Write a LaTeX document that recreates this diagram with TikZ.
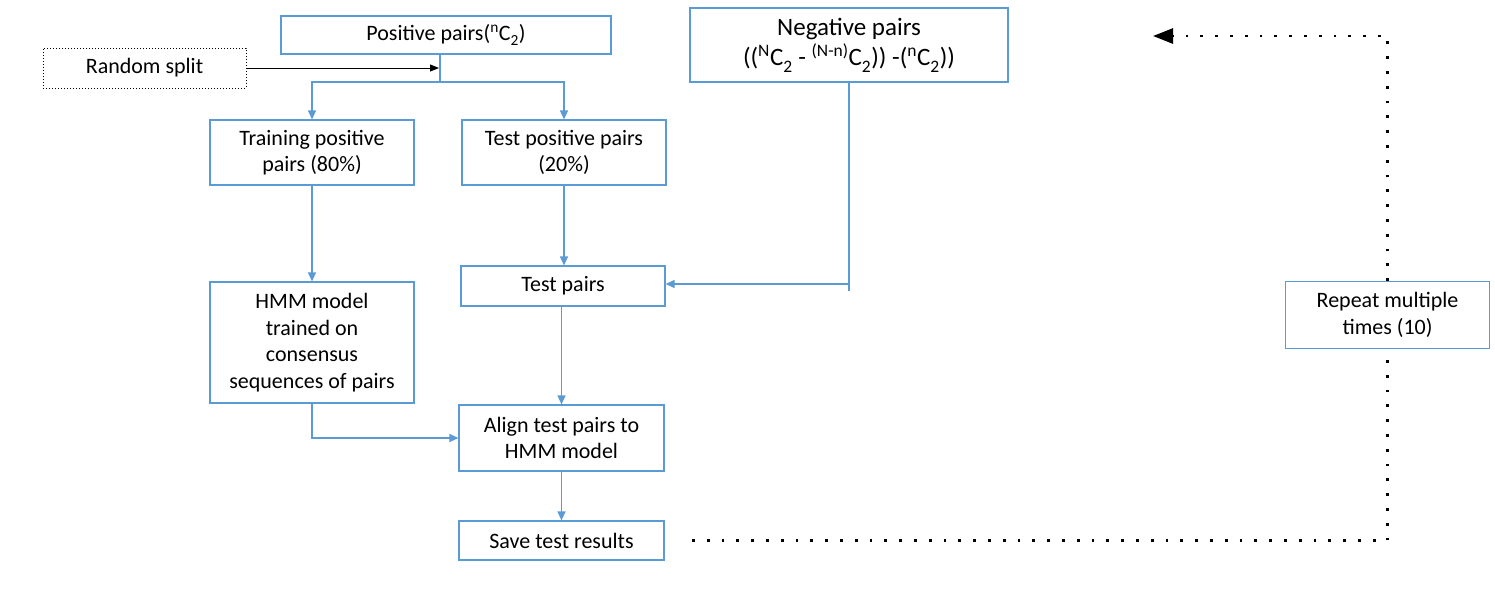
\documentclass[tikz,border=0pt]{standalone}
\usepackage{fontspec}
\setmainfont{Carlito}
\usetikzlibrary{arrows.meta,positioning}
\definecolor{obl}{RGB}{91,155,213}
\newcommand{\dnsub}[1]{\textsubscript{\raisebox{-0.18em}{#1}}}
\tikzset{
  box/.style={draw=obl, line width=1.2pt, align=center, inner sep=2pt,
    font=\fontsize{22}{26.5}\selectfont},
  conn/.style={draw=obl, line width=1.2pt},
  carr/.style={conn, -{Triangle[length=9pt,width=8pt]}},
  bigdots/.style={line width=2.8pt, dash pattern=on 2.8pt off 12pt},
}
\begin{document}
\begin{tikzpicture}[x=1pt,y=-1pt]
\useasboundingbox (0,0) rectangle (1495,590);
\node[box, draw=black, line width=0.7pt, dash pattern=on 1pt off 2pt, minimum width=203pt, minimum height=40pt] (rs) at (144.5,68) {\raisebox{-2pt}{Random split}};
\node[box, minimum width=330pt, minimum height=38pt] (pos) at (446,35) {\raisebox{-2pt}{Positive pairs(\textsuperscript{n}C\dnsub{2})}};
\node[box, minimum width=204pt, minimum height=65pt] (trp) at (312,152.5) {Training positive\\pairs (80\%)};
\node[box, minimum width=204pt, minimum height=65pt] (tsp) at (564,152.5) {Test positive pairs\\(20\%)};
\node[box, minimum width=318pt, minimum height=74pt, font=\fontsize{25}{30}\selectfont] (neg) at (849,45) {Negative pairs\\((\textsuperscript{N}C\dnsub{2} - \textsuperscript{(N-n)}C\dnsub{2})) -(\textsuperscript{n}C\dnsub{2}))};
\node[box, minimum width=204pt, minimum height=40pt] (tp) at (563,286) {\raisebox{-2pt}{Test pairs}};
\node[box, minimum width=204pt, minimum height=121pt] (hmm) at (312,342.5) {HMM model\\trained on\\consensus\\sequences of pairs};
\node[box, minimum width=205pt, minimum height=66pt] (align) at (561.5,438) {Align test pairs to\\HMM model};
\node[box, minimum width=205pt, minimum height=39pt] (save) at (561.5,540.5) {\raisebox{-2pt}{Save test results}};
\node[box, minimum width=204pt, minimum height=67pt] (rep) at (1387.5,315) {Repeat multiple\\times (10)};
\coordinate (sp) at (440,82);
\coordinate (d1) at (692,540.5);
\coordinate (d2) at (1153,36);
% connectors
\draw[line width=0.9pt, -{Triangle[length=9pt,width=7pt]}] (rs.east) -- ([xshift=-1pt]rs.east -| sp);
\draw[conn] (sp |- pos.south) -- (sp);
\draw[carr] (sp) -| (trp.north);
\draw[carr] (sp) -| (tsp.north);
\draw[carr] (trp.south) -- (hmm.north);
\draw[carr] (tsp.south) -- (tsp.south |- tp.north);
\draw[conn] (neg.south) -- ++(0,208);
\draw[carr] ([yshift=2pt]neg.south |- tp.east) -- ([yshift=2pt]tp.east);
\draw[carr] (hmm.south) |- (align.west);
\draw[carr] (align.north |- tp.south) -- (align.north);
\draw[carr] (align.south) -- (save.north);
\draw[bigdots] (d1) -| (rep.south);
\draw[bigdots, -{Triangle[length=20pt,width=15pt]}] (rep.north) |- (d2);
\end{tikzpicture}
\end{document}
